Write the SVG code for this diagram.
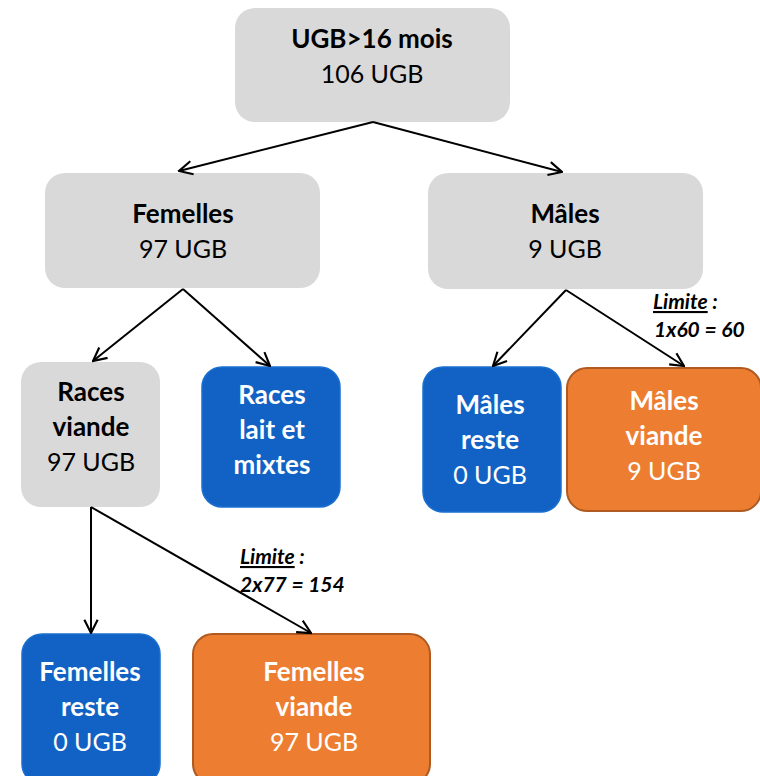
<svg xmlns="http://www.w3.org/2000/svg" width="760" height="776" viewBox="0 0 760 776">
<defs>
<marker id="arr" viewBox="0 0 12 12" refX="11" refY="6" markerWidth="16" markerHeight="16" markerUnits="userSpaceOnUse" orient="auto">
<path d="M1,1 L11,6 L1,11" fill="none" stroke="#000" stroke-width="1.6"/>
</marker>
<style>
.grey{fill:#d9d9d9;}
.blue{fill:#1162c4;stroke:#1a6fd0;stroke-width:1.5;}
.orange{fill:#ed7d31;stroke:#ae5a21;stroke-width:2;}
text{font-family:Lato,"Open Sans","Liberation Sans",sans-serif;font-size:25px;text-anchor:middle;}
.b{font-weight:bold;font-size:26px;}
.dk{fill:#000;}
.wt{fill:#fff;}
.lim{font-size:21px;font-weight:bold;font-style:italic;text-anchor:start;fill:#000;}
.conn line{stroke:#000;stroke-width:2;marker-end:url(#arr);}
</style>
</defs>
<rect width="760" height="776" fill="#fff"/>
<g id="n-top"><rect class="grey" x="235" y="8" width="275" height="114" rx="20"/>
<text class="dk b" x="372" y="48">UGB&gt;16 mois</text><text class="dk" x="372" y="83">106 UGB</text></g>
<g id="n-femelles"><rect class="grey" x="45" y="173" width="275" height="115" rx="20"/>
<text class="dk b" x="183" y="223">Femelles</text><text class="dk" x="183" y="258">97 UGB</text></g>
<g id="n-males"><rect class="grey" x="428" y="173" width="275" height="116" rx="20"/>
<text class="dk b" x="565" y="223">Mâles</text><text class="dk" x="565" y="258">9 UGB</text></g>
<g id="n-races-viande"><rect class="grey" x="21" y="362" width="139" height="145" rx="20"/>
<text class="dk b" x="91" y="401">Races</text><text class="dk b" x="91" y="436">viande</text><text class="dk" x="91" y="471">97 UGB</text></g>
<g id="n-races-lait"><rect class="blue" x="202" y="367" width="138" height="140" rx="20"/>
<text class="wt b" x="272" y="404">Races</text><text class="wt b" x="272" y="439">lait et</text><text class="wt b" x="272" y="474">mixtes</text></g>
<g id="n-males-reste"><rect class="blue" x="423" y="367" width="138" height="145" rx="20"/>
<text class="wt b" x="490" y="414">Mâles</text><text class="wt b" x="490" y="449">reste</text><text class="wt" x="490" y="484">0 UGB</text></g>
<g id="n-males-viande"><rect class="orange" x="567" y="368" width="194" height="143" rx="20"/>
<text class="wt b" x="664" y="410">Mâles</text><text class="wt b" x="664" y="445">viande</text><text class="wt" x="664" y="480">9 UGB</text></g>
<g id="n-femelles-reste"><rect class="blue" x="22" y="634" width="138" height="150" rx="20"/>
<text class="wt b" x="90" y="681">Femelles</text><text class="wt b" x="90" y="716">reste</text><text class="wt" x="90" y="751">0 UGB</text></g>
<g id="n-femelles-viande"><rect class="orange" x="193" y="634" width="237" height="150" rx="20"/>
<text class="wt b" x="314" y="681">Femelles</text><text class="wt b" x="314" y="716">viande</text><text class="wt" x="314" y="751">97 UGB</text></g>
<g class="conn" id="connectors">
<line x1="373" y1="122" x2="179" y2="171"/>
<line x1="373" y1="122" x2="562" y2="172"/>
<line x1="183" y1="289" x2="93" y2="361"/>
<line x1="183" y1="289" x2="270" y2="366"/>
<line x1="566" y1="290" x2="493" y2="366"/>
<line x1="566" y1="290" x2="684" y2="366"/>
<line x1="91" y1="507" x2="91" y2="633"/>
<line x1="91" y1="507" x2="311" y2="633"/>
</g>
<g id="labels">
<text class="lim" x="653" y="309"><tspan text-decoration="underline">Limite</tspan> :</text>
<text class="lim" x="654" y="337">1x60 = 60</text>
<text class="lim" x="240" y="564"><tspan text-decoration="underline">Limite</tspan> :</text>
<text class="lim" x="240" y="592">2x77 = 154</text>
</g>
</svg>
